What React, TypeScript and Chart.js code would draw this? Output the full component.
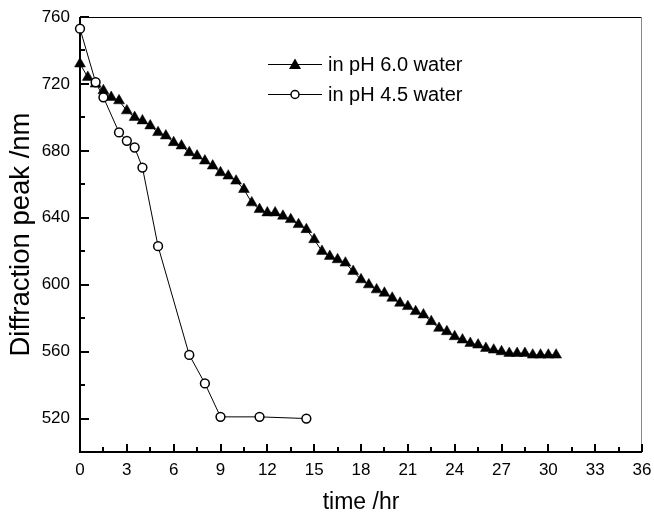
import React, { useEffect, useRef } from 'react';
import { Chart, registerables } from 'chart.js';

Chart.register(...registerables);

// ---- data ----
const timePH60 = [
  0, 0.5, 1, 1.5, 2, 2.5, 3, 3.5, 4, 4.5, 5, 5.5, 6, 6.5, 7, 7.5, 8, 8.5, 9, 9.5,
  10, 10.5, 11, 11.5, 12, 12.5, 13, 13.5, 14, 14.5, 15, 15.5, 16, 16.5, 17, 17.5,
  18, 18.5, 19, 19.5, 20, 20.5, 21, 21.5, 22, 22.5, 23, 23.5, 24, 24.5, 25, 25.5,
  26, 26.5, 27, 27.5, 28, 28.5, 29, 29.5, 30, 30.5,
];
const peakPH60 = [
  732, 724, 720, 716, 712, 710, 704, 700, 698, 695, 691, 689, 685, 683, 679, 677, 674, 671, 667, 665,
  662, 657, 649, 645, 643, 643, 641, 639, 636, 633, 627, 620, 617, 615, 613, 608,
  603, 600, 597, 595, 592, 589, 587, 584, 582, 578, 574, 572, 569, 567, 565, 564,
  562, 561, 560, 559, 559, 559, 558, 558, 558, 558,
];
const timePH45 = [0, 1, 1.5, 2.5, 3, 3.5, 4, 5, 7, 8, 9, 11.5, 14.5];
const peakPH45 = [753, 721, 712, 691, 686, 682, 670, 623, 558, 541, 521, 521, 520];

const seriesNames = ['in pH 6.0 water', 'in pH 4.5 water'];
const xTitle = 'time /hr';
const yTitle = 'Diffraction peak /nm';

const xMajorTicks = [0, 3, 6, 9, 12, 15, 18, 21, 24, 27, 30, 33, 36];
const xMinorTicks = [1.5, 4.5, 7.5, 10.5, 13.5, 16.5, 19.5, 22.5, 25.5, 28.5, 31.5, 34.5];
const yMajorTicks = [520, 560, 600, 640, 680, 720, 760];
const yMinorTicks = [540, 580, 620, 660, 700, 740];

const FONT = 'Liberation Sans, Arial, Helvetica, sans-serif';

const framePlugin = {
  id: 'frame',
  beforeDatasetsDraw(chart: any) {
    const { ctx, chartArea } = chart;
    const { left, right, top, bottom } = chartArea;
    const xs = chart.scales.x;
    const ys = chart.scales.y;
    ctx.save();
    ctx.strokeStyle = '#000';
    ctx.lineWidth = 1;
    ctx.beginPath();
    ctx.moveTo(left, top + 0.5);
    ctx.lineTo(right, top + 0.5);
    ctx.stroke();
    ctx.strokeStyle = '#8a8a8a';
    ctx.beginPath();
    ctx.moveTo(right - 0.5, top);
    ctx.lineTo(right - 0.5, bottom);
    ctx.stroke();
    ctx.strokeStyle = '#000';
    ctx.lineWidth = 2;
    ctx.beginPath();
    ctx.moveTo(left, top);
    ctx.lineTo(left, bottom);
    ctx.lineTo(right, bottom);
    ctx.stroke();
    const tick = (x1: number, y1: number, x2: number, y2: number) => {
      ctx.beginPath();
      ctx.moveTo(x1, y1);
      ctx.lineTo(x2, y2);
      ctx.stroke();
    };
    xMajorTicks.forEach((v) => {
      const px = Math.round(xs.getPixelForValue(v));
      tick(px, bottom, px, bottom - 8);
    });
    xMinorTicks.forEach((v) => {
      const px = Math.round(xs.getPixelForValue(v));
      tick(px, bottom, px, bottom - 5);
    });
    yMajorTicks.forEach((v) => {
      const py = Math.round(ys.getPixelForValue(v));
      tick(left, py, left + 9, py);
    });
    yMinorTicks.forEach((v) => {
      const py = Math.round(ys.getPixelForValue(v));
      tick(left, py, left + 5, py);
    });
    ctx.restore();
  },
  afterDraw(chart: any) {
    const { ctx } = chart;
    ctx.save();
    const rows = [
      { y: 65, style: 'triangle' },
      { y: 95, style: 'circle' },
    ];
    rows.forEach((r, i) => {
      ctx.strokeStyle = '#000';
      ctx.lineWidth = 1;
      ctx.beginPath();
      ctx.moveTo(268, r.y - 0.5);
      ctx.lineTo(322, r.y - 0.5);
      ctx.stroke();
      if (r.style === 'triangle') {
        ctx.fillStyle = '#000';
        ctx.beginPath();
        ctx.moveTo(295, r.y - 6.5);
        ctx.lineTo(301, r.y + 4);
        ctx.lineTo(289, r.y + 4);
        ctx.closePath();
        ctx.fill();
      } else {
        ctx.fillStyle = '#fff';
        ctx.lineWidth = 1.5;
        ctx.beginPath();
        ctx.arc(295, r.y - 0.5, 4, 0, Math.PI * 2);
        ctx.fill();
        ctx.stroke();
      }
      ctx.fillStyle = '#000';
      ctx.font = `20px ${FONT}`;
      ctx.textBaseline = 'middle';
      ctx.textAlign = 'left';
      ctx.fillText(seriesNames[i], 328, r.y + 0.5);
    });
    ctx.restore();
  },
};

export default function App() {
  const ref = useRef<HTMLCanvasElement | null>(null);
  useEffect(() => {
    if (!ref.current) return;
    const chart = new Chart(ref.current, {
      type: 'scatter',
      data: {
        datasets: [
          {
            label: seriesNames[0],
            data: timePH60.map((t, i) => ({ x: t, y: peakPH60[i] })),
            showLine: true,
            borderColor: '#000',
            borderWidth: 1,
            backgroundColor: '#000',
            pointStyle: 'triangle',
            pointRadius: 6.3,
            pointBorderWidth: 0.5,
            pointBorderColor: '#000',
            pointBackgroundColor: '#000',
            clip: false as any,
            order: 2,
          },
          {
            label: seriesNames[1],
            data: timePH45.map((t, i) => ({ x: t, y: peakPH45[i] })),
            showLine: true,
            borderColor: '#000',
            borderWidth: 1,
            backgroundColor: '#fff',
            pointStyle: 'circle',
            pointRadius: 4.4,
            pointBorderWidth: 1.5,
            pointBorderColor: '#000',
            pointBackgroundColor: '#fff',
            clip: false as any,
            order: 1,
          },
        ],
      },
      options: {
        animation: false,
        responsive: false,
        devicePixelRatio: 1,
        layout: { padding: { top: 17, right: 12, left: 0, bottom: 0 } },
        plugins: { legend: { display: false }, tooltip: { enabled: false } },
        scales: {
          x: {
            type: 'linear',
            min: 0,
            max: 36,
            grid: { display: false, drawTicks: false },
            border: { display: false },
            afterBuildTicks: (s: any) => {
              s.ticks = xMajorTicks.map((v) => ({ value: v }));
            },
            afterFit: (s: any) => {
              s.height = 60;
              s.paddingLeft = 0;
              s.paddingRight = 0;
            },
            ticks: {
              autoSkip: false,
              maxRotation: 0,
              padding: 8,
              color: '#000',
              font: { family: FONT, size: 17 },
              callback: (v: any) => String(v),
            },
            title: {
              display: true,
              text: xTitle,
              color: '#000',
              font: { family: FONT, size: 23, lineHeight: '18px' },
              padding: 0,
            },
          },
          y: {
            type: 'linear',
            min: 500,
            max: 760,
            grid: { display: false, drawTicks: false },
            border: { display: false },
            afterBuildTicks: (s: any) => {
              s.ticks = yMajorTicks.map((v) => ({ value: v }));
            },
            afterFit: (s: any) => {
              s.width = 80;
              s.paddingTop = 0;
              s.paddingBottom = 0;
            },
            ticks: {
              autoSkip: false,
              padding: 10,
              color: '#000',
              font: { family: FONT, size: 17 },
              callback: (v: any) => String(v),
            },
            title: {
              display: true,
              text: yTitle,
              color: '#000',
              font: { family: FONT, size: 27.5, lineHeight: '26px' },
              padding: { top: 8, bottom: 0 },
            },
          },
        },
      },
      plugins: [framePlugin],
    });
    return () => chart.destroy();
  }, []);
  return (
    <div style={{ position: 'absolute', left: 0, top: 0, width: 654, height: 512, background: '#fff' }}>
      <canvas ref={ref} width={654} height={512} style={{ display: 'block' }} />
    </div>
  );
}
